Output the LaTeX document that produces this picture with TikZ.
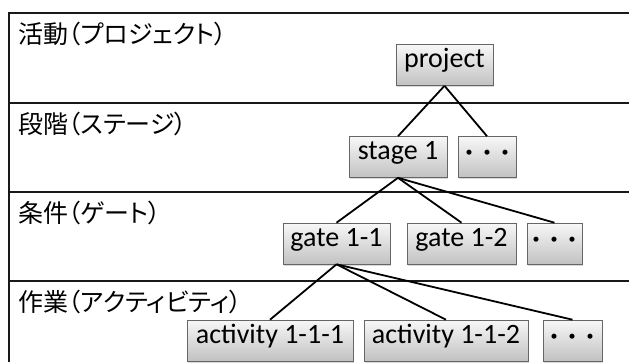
\documentclass[tikz,border=0pt]{standalone}
\usepackage{fontspec}
\setmainfont{Carlito}
\newfontfamily\cjk[RawFeature=+palt]{Noto Sans CJK JP}
\newfontfamily\cjkdots[BoldFont={Noto Sans CJK JP Black}]{Noto Sans CJK JP}
\usetikzlibrary{shadows}
\tikzset{
  frameline/.style={line width=2pt, draw=black!90},
  levellabel/.style={anchor=base west, inner sep=0pt, font=\cjk\fontsize{25}{29}\selectfont},
  box/.style={draw=black!60, line width=0.6pt, top color=white!97!black, bottom color=black!24,
    inner sep=0pt, minimum height=41pt, text height=0.72em, text depth=0.22em,
    font=\fontsize{28}{31}\selectfont,
    drop shadow={shadow xshift=1.2pt, shadow yshift=-1.5pt, opacity=0.3}},
  dotsbox/.style={box, font=\cjkdots\bfseries\fontsize{18}{20}\selectfont},
  conn/.style={line width=1.8pt, draw=black}
}
\begin{document}
\begin{tikzpicture}[x=1pt,y=-1pt]
\useasboundingbox (0,0) rectangle (629,362);
\fill[white] (0,0) rectangle (629,362);
% frame and bands
\coordinate (ftl) at (9,13);
\coordinate (fbl) at (9,362);
\coordinate (ftr) at (629,13);
\coordinate (s1l) at (9,103);  \coordinate (s1r) at (629,103);
\coordinate (s2l) at (9,192);  \coordinate (s2r) at (629,192);
\coordinate (s3l) at (9,281);  \coordinate (s3r) at (629,281);
\draw[frameline] (fbl) -- (ftl) -- (ftr);
\draw[frameline] (s1l) -- (s1r);
\draw[frameline] (s2l) -- (s2r);
\draw[frameline] (s3l) -- (s3r);
% level labels
\node[levellabel] (l1) at (18,43) {活動（プロジェクト）};
\node[levellabel] (l2) at (18,133) {段階（ステージ）};
\node[levellabel] (l3) at (18,222) {条件（ゲート）};
\node[levellabel] (l4) at (18,311) {作業（アクティビティ）};
% nodes
\node[box, minimum width=97pt] (project) at (444.5,65) {project};
\node[box, minimum width=98pt] (stage1) at (398,157) {stage 1};
\node[dotsbox, minimum width=58pt] (sdots) at (487,157) {・・・};
\node[box, minimum width=107pt] (gate11) at (336.5,243.5) {gate 1-1};
\node[box, minimum width=109pt] (gate12) at (461.5,243.5) {gate 1-2};
\node[dotsbox, minimum width=55pt] (gdots) at (554.5,243.5) {・・・};
\node[box, minimum width=166pt] (act111) at (270,340.5) {activity 1-1-1};
\node[box, minimum width=164pt] (act112) at (446,340.5) {activity 1-1-2};
\node[dotsbox, minimum width=59pt] (adots) at (572.5,340.5) {・・・};
% connectors
\draw[conn] (project.south) -- (stage1.north);
\draw[conn] (project.south) -- (sdots.north);
\draw[conn] (stage1.south) -- (gate11.north);
\draw[conn] (stage1.south) -- (gate12.north);
\draw[conn] (stage1.south) -- (gdots.north);
\draw[conn] (gate11.south) -- (act111.north);
\draw[conn] (gate11.south) -- (act112.north);
\draw[conn] (gate11.south) -- (adots.north);
\end{tikzpicture}
\end{document}
